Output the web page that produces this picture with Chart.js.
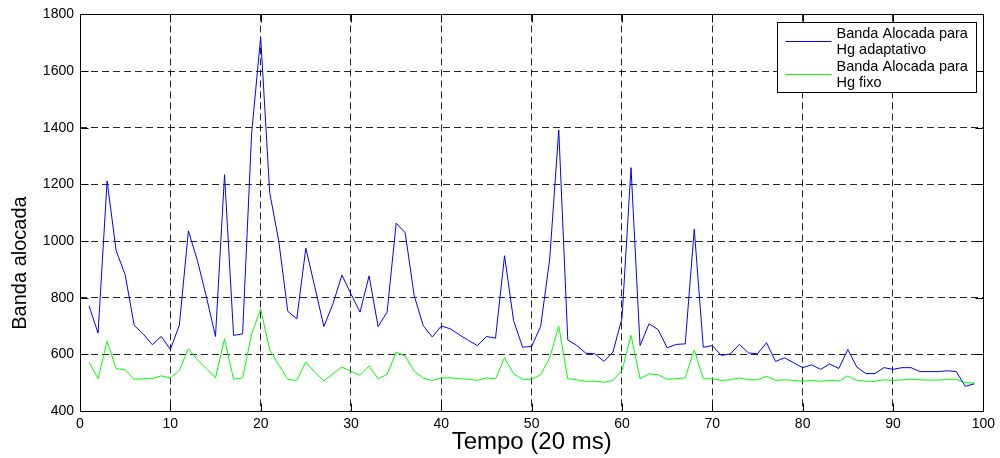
<!DOCTYPE html>
<html lang="pt">
<head>
  <meta charset="UTF-8">
  <title>Banda alocada</title>
  <script src="https://cdn.jsdelivr.net/npm/chart.js"></script>
  <style>
    html, body { margin: 0; padding: 0; background: #fff; }
    #chart { display: block; }
  </style>
</head>
<body>
  <canvas id="chart" width="1000" height="458"></canvas>

  <script>
    // tempo (20 ms) 1..99
    const tempo = [
      1, 2, 3, 4, 5, 6, 7, 8, 9, 10, 11, 12, 13, 14, 15, 16, 17, 18, 19, 20,
      21, 22, 23, 24, 25, 26, 27, 28, 29, 30, 31, 32, 33, 34, 35, 36, 37, 38, 39, 40,
      41, 42, 43, 44, 45, 46, 47, 48, 49, 50, 51, 52, 53, 54, 55, 56, 57, 58, 59, 60,
      61, 62, 63, 64, 65, 66, 67, 68, 69, 70, 71, 72, 73, 74, 75, 76, 77, 78, 79, 80,
      81, 82, 83, 84, 85, 86, 87, 88, 89, 90, 91, 92, 93, 94, 95, 96, 97, 98, 99
    ];

    const bandaAdaptativo = [
      771, 675, 1212, 966, 881, 702, 672, 634, 663, 617,
      703, 1036, 931, 802, 663, 1234, 667, 672, 1380, 1720,
      1171, 1001, 752, 725, 975, 837, 698, 778, 880, 813,
      749, 877, 698, 749, 1063, 1029, 807, 701, 661, 700,
      690, 669, 649, 631, 663, 657, 948, 719, 625, 628,
      699, 937, 1392, 651, 631, 604, 602, 575, 608, 728,
      1259, 631, 708, 687, 623, 635, 637, 1042, 625, 631,
      596, 602, 635, 605, 602, 641, 575, 588, 570, 553,
      563, 547, 566, 550, 617, 555, 532, 532, 553, 547,
      553, 553, 539, 539, 539, 542, 539, 487, 496
    ];

    const bandaFixo = [
      573, 514, 647, 549, 546, 512, 514, 514, 524, 517,
      543, 620, 581, 549, 517, 655, 512, 517, 672, 760,
      616, 563, 512, 508, 573, 537, 506, 531, 555, 540,
      526, 559, 514, 529, 608, 594, 541, 516, 508, 517,
      517, 514, 512, 508, 517, 514, 588, 531, 512, 512,
      528, 588, 699, 514, 510, 505, 505, 501, 508, 543,
      667, 514, 531, 528, 512, 514, 517, 616, 514, 514,
      508, 510, 517, 510, 510, 523, 508, 510, 508, 505,
      508, 505, 508, 506, 524, 508, 505, 505, 510, 508,
      510, 512, 510, 509, 509, 512, 512, 500, 499
    ];

    const xTicks = [0, 10, 20, 30, 40, 50, 60, 70, 80, 90, 100];
    const yTicks = [400, 600, 800, 1000, 1200, 1400, 1600, 1800];

    const legendLines = [
      ['Banda Alocada para', 'Hg adaptativo'],
      ['Banda Alocada para', 'Hg fixo']
    ];

    const FONT = "Arial, 'Liberation Sans', Helvetica, sans-serif";

    function points(values) {
      return tempo.map((t, i) => ({ x: t, y: values[i] }));
    }

    // box round the axes, inward tick marks, y title and the boxed legend
    const matlabFrame = {
      id: 'matlabFrame',
      afterDraw(chart) {
        const ctx = chart.ctx;
        const a = chart.chartArea;
        const L = Math.round(a.left) + 0.5, R = Math.round(a.right) + 0.5;
        const T = Math.round(a.top) + 0.5, B = Math.round(a.bottom) + 0.5;
        const tick = 8;

        ctx.save();
        ctx.strokeStyle = '#000';
        ctx.lineWidth = 1;
        ctx.setLineDash([]);
        ctx.strokeRect(L, T, R - L, B - T);

        ctx.beginPath();
        xTicks.forEach(v => {
          const px = Math.round(chart.scales.x.getPixelForValue(v)) + 0.5;
          ctx.moveTo(px, B); ctx.lineTo(px, B - tick);
          ctx.moveTo(px, T); ctx.lineTo(px, T + tick);
        });
        yTicks.forEach(v => {
          const py = Math.round(chart.scales.y.getPixelForValue(v)) + 0.5;
          ctx.moveTo(L, py); ctx.lineTo(L + tick, py);
          ctx.moveTo(R, py); ctx.lineTo(R - tick, py);
        });
        ctx.stroke();

        // y axis title
        ctx.save();
        ctx.translate(20, 263);
        ctx.rotate(-Math.PI / 2);
        ctx.fillStyle = '#000';
        ctx.font = '20px ' + FONT;
        ctx.textAlign = 'center';
        ctx.textBaseline = 'middle';
        ctx.fillText('Banda alocada', 0, 0);
        ctx.restore();

        // legend
        const lx = Math.round(a.right - 206) + 0.5;
        const ly = Math.round(a.top + 8) + 0.5;
        const lw = 199, lh = 70;
        ctx.fillStyle = '#fff';
        ctx.fillRect(lx, ly, lw, lh);
        ctx.strokeRect(lx, ly, lw, lh);

        ctx.font = '14.5px ' + FONT;
        ctx.textAlign = 'left';
        ctx.textBaseline = 'alphabetic';
        chart.data.datasets.forEach((ds, i) => {
          const rowTop = ly + i * 33;
          ctx.strokeStyle = ds.borderColor;
          ctx.beginPath();
          ctx.moveTo(lx + 8, Math.round(rowTop + 18) + 0.5);
          ctx.lineTo(lx + 54, Math.round(rowTop + 18) + 0.5);
          ctx.stroke();
          ctx.fillStyle = '#000';
          legendLines[i].forEach((txt, j) => {
            ctx.fillText(txt, lx + 59, rowTop + 15 + j * 16);
          });
        });
        ctx.restore();
      }
    };

    const chart = new Chart(document.getElementById('chart'), {
      type: 'line',
      data: {
        datasets: [
          {
            label: 'Banda Alocada para Hg adaptativo',
            data: points(bandaAdaptativo),
            borderColor: '#0000ff',
            borderWidth: 1,
            pointRadius: 0,
            tension: 0,
            fill: false
          },
          {
            label: 'Banda Alocada para Hg fixo',
            data: points(bandaFixo),
            borderColor: '#00ff00',
            borderWidth: 1,
            pointRadius: 0,
            tension: 0,
            fill: false
          }
        ]
      },
      options: {
        responsive: false,
        animation: false,
        layout: { padding: { top: 14, right: 12, left: 0, bottom: 0 } },
        plugins: {
          legend: { display: false },
          tooltip: { enabled: false }
        },
        scales: {
          x: {
            type: 'linear',
            min: 0,
            max: 100,
            afterBuildTicks: s => { s.ticks = xTicks.map(v => ({ value: v })); },
            afterFit: s => { s.height = 47; },
            grid: { color: 'rgba(0,0,0,0.85)', lineWidth: 1, drawTicks: false },
            border: { display: false, dash: [7, 4] },
            ticks: {
              color: '#000',
              font: { family: FONT, size: 14 },
              padding: 5,
              autoSkip: false,
              maxRotation: 0,
              callback: v => String(v)
            },
            title: {
              display: true,
              text: 'Tempo (20 ms)',
              color: '#000',
              font: { family: FONT, size: 24 },
              padding: { top: 0, bottom: 1 }
            }
          },
          y: {
            min: 400,
            max: 1800,
            afterBuildTicks: s => { s.ticks = yTicks.map(v => ({ value: v })); },
            afterFit: s => { s.width = 80; },
            grid: { color: 'rgba(0,0,0,0.85)', lineWidth: 1, drawTicks: false },
            border: { display: false, dash: [7, 4] },
            ticks: {
              color: '#000',
              font: { family: FONT, size: 14 },
              padding: 6,
              callback: v => String(v)
            }
          }
        }
      },
      plugins: [matlabFrame]
    });
  </script>
</body>
</html>
